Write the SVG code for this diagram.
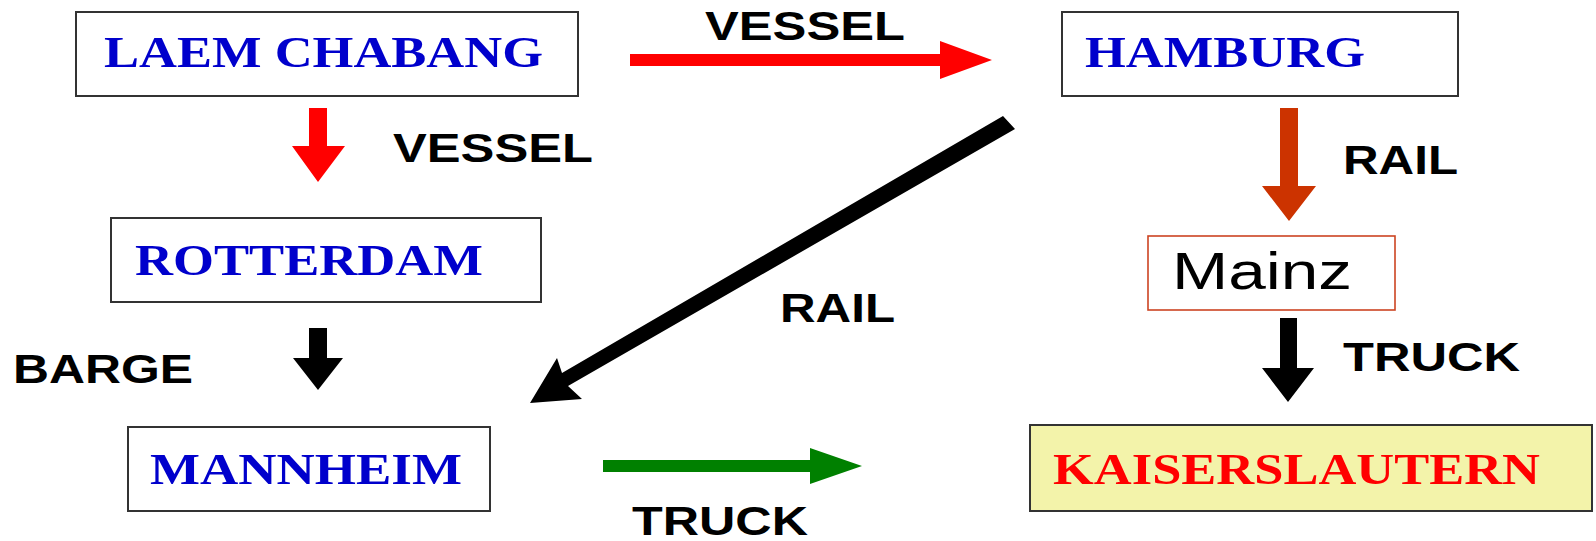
<svg xmlns="http://www.w3.org/2000/svg" width="1596" height="541" viewBox="0 0 1596 541">
<style>
.box{fill:#fff;stroke:#333;stroke-width:2}
.city{font-family:"Liberation Serif","Times New Roman",serif;font-weight:bold;font-size:45px;fill:#0000CC}
.lbl{font-family:"Liberation Sans",Arial,sans-serif;font-weight:bold;font-size:40px;fill:#000}
</style>
<rect width="1596" height="541" fill="#fff"/>
<g id="laem-chabang">
<rect class="box" x="76" y="12" width="502" height="84"/>
<text class="city" x="104" y="67" textLength="439" lengthAdjust="spacingAndGlyphs">LAEM CHABANG</text>
</g>
<g id="hamburg">
<rect class="box" x="1062" y="12" width="396" height="84"/>
<text class="city" x="1085" y="67" textLength="280" lengthAdjust="spacingAndGlyphs">HAMBURG</text>
</g>
<g id="rotterdam">
<rect class="box" x="111" y="218" width="430" height="84"/>
<text class="city" x="135" y="275" textLength="348" lengthAdjust="spacingAndGlyphs">ROTTERDAM</text>
</g>
<g id="mannheim">
<rect class="box" x="128" y="427" width="362" height="84"/>
<text class="city" x="150" y="484" textLength="312" lengthAdjust="spacingAndGlyphs">MANNHEIM</text>
</g>
<g id="mainz">
<rect x="1148" y="236" width="247" height="74" fill="#fff" stroke="#CC4422" stroke-width="1.6"/>
<text x="1172" y="289" font-family="Liberation Sans,Arial,sans-serif" font-size="52" fill="#000" textLength="180" lengthAdjust="spacingAndGlyphs">Mainz</text>
</g>
<g id="kaiserslautern">
<rect x="1030" y="425" width="562" height="86" fill="#F3F3AA" stroke="#333" stroke-width="2"/>
<text class="city" x="1053" y="484" fill="#FF0000" style="fill:#FF0000" textLength="487" lengthAdjust="spacingAndGlyphs">KAISERSLAUTERN</text>
</g>
<g id="connectors">
<polygon fill="#FF0000" points="630,54 940,54 940,41 992,60 940,79 940,66 630,66"/>
<polygon fill="#FF0000" points="309,108 327,108 327,146 345,146 318,182 292,146 309,146"/>
<polygon fill="#000" points="1003,116 1015,129 568,386 582,399 530,403 557,358 562,373"/>
<polygon fill="#CC3300" points="1280,108 1298,108 1298,186 1316,186 1289,221 1262,186 1280,186"/>
<polygon fill="#000" points="309,328 327,328 327,358 343,358 318,390 293,358 309,358"/>
<polygon fill="#000" points="1280,318 1297,318 1297,368 1314,368 1288,402 1262,368 1280,368"/>
<polygon fill="#008000" points="603,460 810,460 810,448 862,466 810,484 810,472 603,472"/>
</g>
<g id="labels">
<text class="lbl" x="705" y="40" textLength="200" lengthAdjust="spacingAndGlyphs">VESSEL</text>
<text class="lbl" x="393" y="162" textLength="200" lengthAdjust="spacingAndGlyphs">VESSEL</text>
<text class="lbl" x="1343" y="174" textLength="115" lengthAdjust="spacingAndGlyphs">RAIL</text>
<text class="lbl" x="780" y="322" textLength="115" lengthAdjust="spacingAndGlyphs">RAIL</text>
<text class="lbl" x="13" y="383" textLength="180" lengthAdjust="spacingAndGlyphs">BARGE</text>
<text class="lbl" x="1343" y="371" textLength="177" lengthAdjust="spacingAndGlyphs">TRUCK</text>
<text class="lbl" x="632" y="535" textLength="176" lengthAdjust="spacingAndGlyphs">TRUCK</text>
</g>
</svg>
